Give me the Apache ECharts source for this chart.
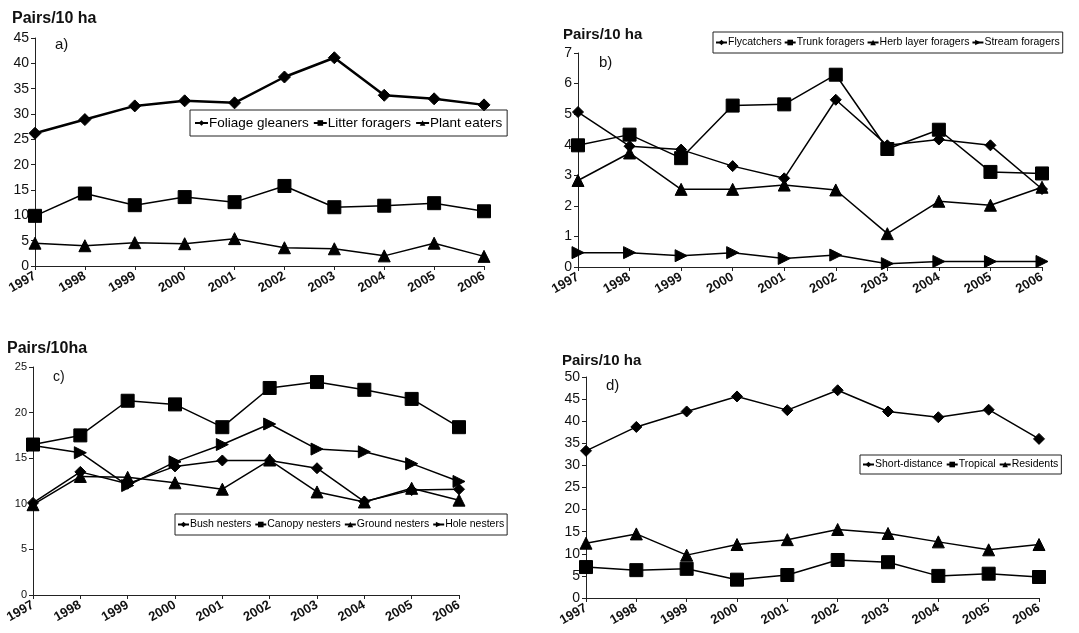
<!DOCTYPE html>
<html>
<head>
<meta charset="utf-8">
<script src="https://cdn.jsdelivr.net/npm/echarts@6/dist/echarts.min.js"></script>
<style>
  html, body { margin: 0; padding: 0; background: #fff; }
  #chart { width: 1079px; height: 633px; }
</style>
</head>
<body>
<div id="chart"></div>
<script>
var years = ['1997', '1998', '1999', '2000', '2001', '2002', '2003', '2004', '2005', '2006'];

// a) foraging guilds
var foliageGleaners = [26.2, 28.9, 31.6, 32.6, 32.2, 37.3, 41.1, 33.7, 33.0, 31.8];
var litterForagers = [9.9, 14.3, 12.0, 13.6, 12.6, 15.8, 11.6, 11.9, 12.4, 10.8];
var plantEaters = [4.5, 4.0, 4.6, 4.4, 5.4, 3.6, 3.4, 2.0, 4.5, 1.9];

// b) foraging guilds (small)
var flycatchers = [5.07, 3.95, 3.84, 3.30, 2.90, 5.47, 3.98, 4.17, 3.98, 2.55];
var trunkForagers = [3.98, 4.33, 3.56, 5.28, 5.32, 6.29, 3.86, 4.49, 3.11, 3.06];
var herbLayerForagers = [2.83, 3.73, 2.54, 2.54, 2.68, 2.52, 1.09, 2.15, 2.02, 2.61];
var streamForagers = [0.47, 0.47, 0.37, 0.47, 0.28, 0.39, 0.11, 0.18, 0.18, 0.18];

// c) nesting guilds
var bushNesters = [10.1, 13.5, 12.2, 14.1, 14.75, 14.75, 13.9, 10.25, 11.5, 11.6];
var canopyNesters = [16.5, 17.5, 21.3, 20.9, 18.4, 22.7, 23.35, 22.5, 21.5, 18.4];
var groundNesters = [9.9, 13.0, 12.9, 12.3, 11.6, 14.8, 11.3, 10.2, 11.7, 10.4];
var holeNesters = [16.4, 15.6, 12.0, 14.6, 16.5, 18.75, 16.0, 15.7, 14.4, 12.45];

// d) migration
var shortDistance = [33.3, 38.7, 42.2, 45.6, 42.5, 47.0, 42.2, 40.9, 42.6, 36.0];
var tropical = [7.0, 6.3, 6.6, 4.15, 5.2, 8.6, 8.1, 5.0, 5.5, 4.75];
var residents = [12.4, 14.5, 9.7, 12.1, 13.2, 15.5, 14.6, 12.7, 10.9, 12.1];

var FONT = '"Liberation Sans", Arial, sans-serif';

function mkX(gi) {
  return {
    type: 'category', gridIndex: gi, data: years, boundaryGap: false,
    axisLine: { lineStyle: { color: '#222', width: 1 } },
    axisTick: { show: true, length: 4, alignWithLabel: true, lineStyle: { color: '#222' } },
    axisLabel: { rotate: 30, margin: 9, color: '#111', fontFamily: FONT, fontWeight: 'bold', fontSize: 13, interval: 0 }
  };
}
function mkY(gi, max, interval, fs) {
  return {
    type: 'value', gridIndex: gi, min: 0, max: max, interval: interval,
    axisLine: { show: true, lineStyle: { color: '#222', width: 1 } },
    axisTick: { show: true, length: 4, lineStyle: { color: '#222' } },
    splitLine: { show: false },
    axisLabel: { color: '#111', fontFamily: FONT, fontSize: fs, margin: 6 }
  };
}
function mkS(name, data, gi, symbol, size, lw, rot) {
  return {
    name: name, type: 'line', xAxisIndex: gi, yAxisIndex: gi, data: data,
    symbol: symbol, symbolSize: size, symbolRotate: rot || 0, showSymbol: true,
    lineStyle: { color: '#000', width: lw },
    itemStyle: { color: '#000', borderColor: '#000' },
    emphasis: { disabled: true },
    animation: false
  };
}
function mkLegend(names, left, top, fs, pad, iw, gap) {
  return {
    data: names, left: left, top: top, orient: 'horizontal', width: 420,
    borderColor: '#222', borderWidth: 1, padding: pad, itemGap: gap,
    itemWidth: iw, itemHeight: 7,
    textStyle: { color: '#000', fontFamily: FONT, fontSize: fs, padding: [0, 0, 0, -4] }
  };
}
function mkTitle(text, left, top, fs, bold) {
  return {
    text: text, left: left, top: top, padding: 0,
    textStyle: { color: '#111', fontFamily: FONT, fontSize: fs, fontWeight: bold ? 'bold' : 'normal' }
  };
}

var option = {
  backgroundColor: '#fff',
  animation: false,
  title: [
    mkTitle('Pairs/10 ha', 12, 11, 16, true),
    mkTitle('a)', 55, 37, 15, false),
    mkTitle('Pairs/10 ha', 563, 27, 15, true),
    mkTitle('b)', 599, 55, 15, false),
    mkTitle('Pairs/10ha', 7, 341, 16, true),
    mkTitle('c)', 53, 370, 14, false),
    mkTitle('Pairs/10 ha', 562, 353, 15, true),
    mkTitle('d)', 606, 378, 15, false)
  ],
  legend: [
    mkLegend(['Foliage gleaners', 'Litter foragers', 'Plant eaters'], 190, 110, 13.5, [6, 5, 6, 4], 13, 4),
    mkLegend(['Flycatchers', 'Trunk foragers', 'Herb layer foragers', 'Stream foragers'], 713, 32, 10.5, [5, 3, 5, 2], 11, 2),
    mkLegend(['Bush nesters', 'Canopy nesters', 'Ground nesters', 'Hole nesters'], 175, 514, 10.5, [5, 3, 5, 2], 11, 3),
    mkLegend(['Short-distance', 'Tropical', 'Residents'], 860, 455, 10.5, [4, 3, 4, 2], 11, 3)
  ],
  grid: [
    { left: 35, top: 38, width: 449, height: 228 },
    { left: 578, top: 53, width: 464, height: 214 },
    { left: 33, top: 367, width: 426, height: 228 },
    { left: 586, top: 377, width: 453, height: 221 }
  ],
  xAxis: [mkX(0), mkX(1), mkX(2), mkX(3)],
  yAxis: [mkY(0, 45, 5, 14), mkY(1, 7, 1, 14), mkY(2, 25, 5, 11), mkY(3, 50, 5, 14)],
  series: [
    mkS('Foliage gleaners', foliageGleaners, 0, 'diamond', 12, 2.5),
    mkS('Litter foragers', litterForagers, 0, 'rect', 13, 1.5),
    mkS('Plant eaters', plantEaters, 0, 'triangle', 12, 1.5),

    mkS('Flycatchers', flycatchers, 1, 'diamond', 11, 1.5),
    mkS('Trunk foragers', trunkForagers, 1, 'rect', 13, 1.5),
    mkS('Herb layer foragers', herbLayerForagers, 1, 'triangle', 12, 1.5),
    mkS('Stream foragers', streamForagers, 1, 'triangle', 12, 1.5, -90),

    mkS('Bush nesters', bushNesters, 2, 'diamond', 11, 1.5),
    mkS('Canopy nesters', canopyNesters, 2, 'rect', 13, 1.5),
    mkS('Ground nesters', groundNesters, 2, 'triangle', 12, 1.5),
    mkS('Hole nesters', holeNesters, 2, 'triangle', 12, 1.5, -90),

    mkS('Short-distance', shortDistance, 3, 'diamond', 11, 1.5),
    mkS('Tropical', tropical, 3, 'rect', 13, 1.5),
    mkS('Residents', residents, 3, 'triangle', 12, 1.5)
  ]
};

var chart = echarts.init(document.getElementById('chart'), null, { renderer: 'canvas' });
chart.setOption(option);
</script>
</body>
</html>
